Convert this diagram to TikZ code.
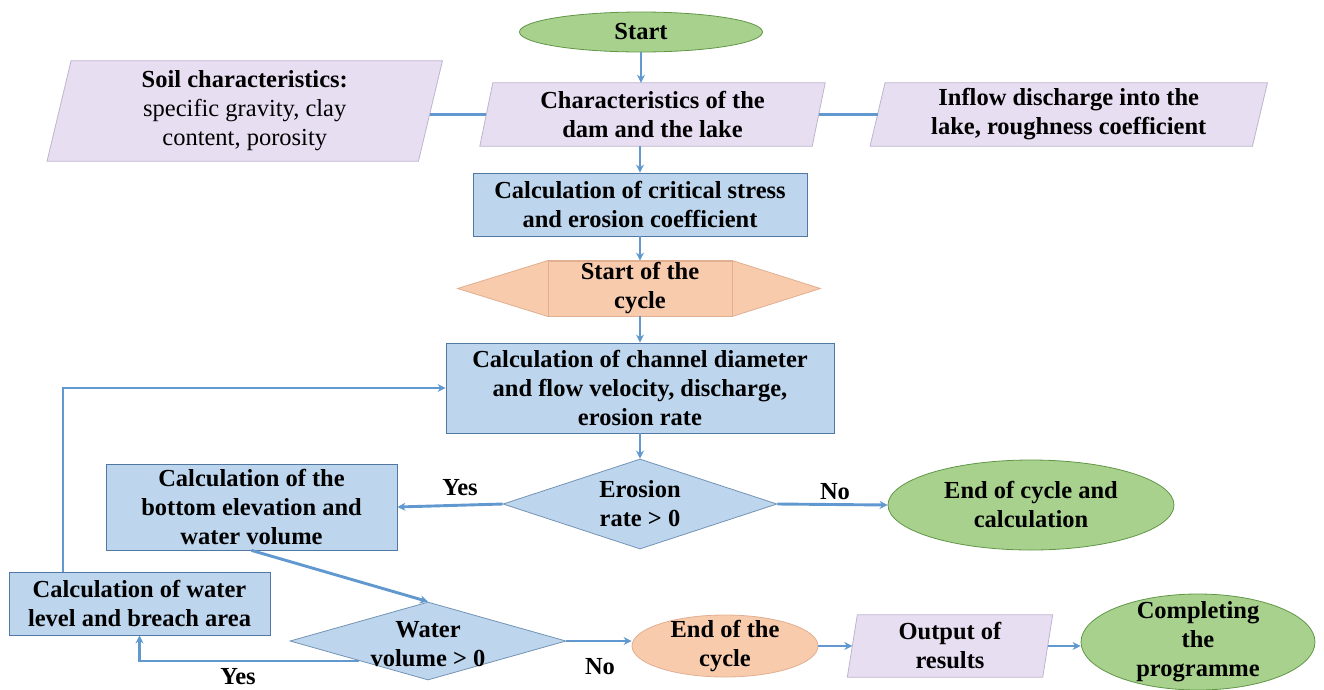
\documentclass[tikz,border=0pt]{standalone}
\usepackage{fontspec}
\setmainfont{Liberation Serif}
\usetikzlibrary{shapes.geometric,arrows.meta,calc,backgrounds}

\definecolor{linkc}{RGB}{98,152,208}
\definecolor{greenf}{RGB}{169,209,142}
\definecolor{greend}{RGB}{96,150,70}
\definecolor{lilacf}{RGB}{232,222,242}
\definecolor{lilacd}{RGB}{190,180,205}
\definecolor{bluef}{RGB}{189,214,238}
\definecolor{blued}{RGB}{80,120,160}
\definecolor{orangef}{RGB}{248,203,173}
\definecolor{oranged}{RGB}{225,175,145}

\tikzset{
  txt/.style={font=\bfseries\fontsize{24.5}{29}\selectfont, align=center, inner sep=0pt, text=black},
  term/.style={ellipse, fill=greenf, draw=greend, line width=0.8pt, inner sep=0pt},
  orb/.style={ellipse, fill=orangef, draw=oranged, line width=0.8pt, inner sep=0pt},
  proc/.style={txt, rectangle, fill=bluef, draw=blued, line width=0.8pt},
  iobox/.style={txt, rectangle},
  para/.style={fill=lilacf, draw=lilacd, line width=0.8pt},
  decide/.style={diamond, fill=bluef, draw=blued!80, line width=0.8pt, inner sep=0pt},
  arr/.style={draw=linkc, line width=2.9pt, -{Stealth[length=8pt,width=8pt]}},
  varr/.style={arr, line width=2.2pt},
  link/.style={draw=linkc, line width=2.9pt},
  lbl/.style={txt}
}

\begin{document}
\begin{tikzpicture}[x=1pt,y=-1pt]
\useasboundingbox (0,0) rectangle (1324,689);

% terminals and cycle marks
\node[term, minimum width=243, minimum height=40,
      label={[txt]center:Start}] (start) at (641,32) {};
\node[term, minimum width=286, minimum height=90,
      label={[txt]center:End of cycle and\\calculation}] (endc) at (1031,505) {};
\node[orb, minimum width=186, minimum height=62,
      label={[txt]center:End of the\\cycle}] (endcy) at (725,646) {};
\node[term, minimum width=234, minimum height=96,
      label={[txt]center:Completing\\the\\programme}] (comp) at (1198,642) {};

% input / output blocks (parallelogram outline added on the background layer)
\node[iobox, minimum width=371, minimum height=100] (soil) at (244.75,111)
  {Soil characteristics:\\{\mdseries specific gravity, clay}\\{\mdseries content, porosity}};
\node[iobox, minimum width=332, minimum height=63] (char) at (652.5,114.5)
  {Characteristics of the\\dam and the lake};
\node[iobox, minimum width=382, minimum height=63] (inflow) at (1068.75,114.5)
  {Inflow discharge into the\\lake, roughness coefficient};
\node[iobox, minimum width=195, minimum height=62] (out) at (950,646)
  {Output of\\results};

% process boxes
\node[proc, minimum width=334, minimum height=63] (crit) at (640,204.5)
  {Calculation of critical stress\\and erosion coefficient};
\node[proc, fill=orangef, draw=oranged, minimum width=184, minimum height=55] (cyc) at (640,288.5)
  {Start of the\\cycle};
\node[proc, minimum width=388, minimum height=90] (chan) at (640,388)
  {Calculation of channel diameter\\and flow velocity, discharge,\\erosion rate};
\node[proc, minimum width=291, minimum height=86] (bot) at (251.5,507)
  {Calculation of the\\bottom elevation and\\water volume};
\node[proc, minimum width=261, minimum height=63] (wat) at (139.5,603.5)
  {Calculation of water\\level and breach area};

% decisions
\node[decide, minimum width=274, minimum height=90,
      label={[txt]center:Erosion\\rate > 0}] (ero) at (640,504) {};
\node[decide, minimum width=276, minimum height=78,
      label={[txt, yshift=-3pt]center:Water\\volume > 0}] (wdia) at (428,641) {};

\begin{pgfonlayer}{background}
  \path[para] ([xshift=12pt]soil.north west) -- ([xshift=12pt]soil.north east)
    -- ([xshift=-12pt]soil.south east) -- ([xshift=-12pt]soil.south west) -- cycle;
  \path[para] ([xshift=6.5pt]char.north west) -- ([xshift=6.5pt]char.north east)
    -- ([xshift=-6.5pt]char.south east) -- ([xshift=-6.5pt]char.south west) -- cycle;
  \path[para] ([xshift=7.5pt]inflow.north west) -- ([xshift=7.5pt]inflow.north east)
    -- ([xshift=-7.5pt]inflow.south east) -- ([xshift=-7.5pt]inflow.south west) -- cycle;
  \path[para] ([xshift=5pt]out.north west) -- ([xshift=5pt]out.north east)
    -- ([xshift=-5pt]out.south east) -- ([xshift=-5pt]out.south west) -- cycle;
  % pointed ends of the cycle start mark
  \path[fill=orangef, draw=oranged, line width=0.8pt]
    (cyc.north west) -- (cyc.north east) -- ([xshift=88pt]cyc.east)
    -- (cyc.south east) -- (cyc.south west) -- ([xshift=-90pt]cyc.west) -- cycle;
\end{pgfonlayer}

% connectors
\draw[varr] (start) -- (start |- char.north);
\draw[link] (char.west -| soil.east) -- (char.west);
\draw[link] (char.east) -- (inflow.west);
\draw[varr] (crit.north |- char.south) -- (crit.north);
\draw[varr] (crit) -- (cyc);
\draw[varr] (cyc) -- (chan);
\draw[varr] (chan) -- (ero);
\draw[arr] (ero.west) -- (bot.east);
\draw[arr] (ero.east) -- (endc.west);
\draw[arr] (bot.south) -- (wdia.north);
\draw[varr] ($(wdia.west)!0.5!(wdia.south)$) -| (wat.south);
\draw[varr] ([xshift=54pt]wat.north west) |- (chan.west);
\draw[arr] (wdia.east) -- (wdia.east -| endcy.west);
\draw[arr] (endcy.east) -- (out.west);
\draw[arr] (out.east) -- (out.east -| comp.west);

% branch labels
\node[lbl] (yes1) at (460,488) {Yes};
\node[lbl] (no1) at (835,492) {No};
\node[lbl] (yes2) at (238,677) {Yes};
\node[lbl] (no2) at (600,667) {No};
\end{tikzpicture}
\end{document}
